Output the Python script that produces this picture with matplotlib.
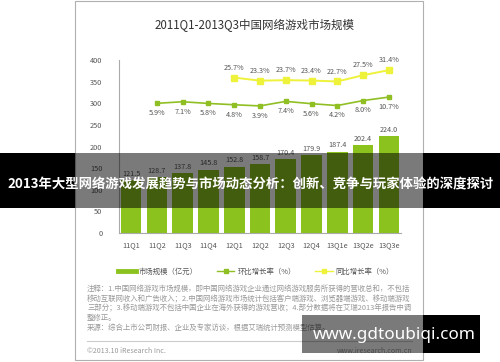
import matplotlib.pyplot as plt
from matplotlib.patches import Rectangle
from matplotlib.lines import Line2D

plt.rcParams['font.family'] = ['Noto Sans CJK SC', 'DejaVu Sans']

quarters = ['11Q1', '11Q2', '11Q3', '11Q4', '12Q1', '12Q2', '12Q3', '12Q4', '13Q1e', '13Q2e', '13Q3e']
market = [121.5, 128.7, 137.8, 145.8, 152.8, 158.7, 170.4, 179.9, 187.4, 202.4, 224.0]
qoq = [5.9, 7.1, 5.8, 4.8, 3.9, 7.4, 5.6, 4.2, 8.0, 10.7]          # 11Q2 .. 13Q3e
yoy = [25.7, 23.3, 23.7, 23.4, 22.7, 27.5, 31.4]                    # 12Q1 .. 13Q3e
yticks = [0, 50, 100, 150, 200, 250, 300, 350, 400]

title = '2011Q1-2013Q3中国网络游戏市场规模'
legend_labels = ['市场规模（亿元）', '环比增长率（%）', '同比增长率（%）']
notes = ['注释：1.中国网络游戏市场规模，即中国网络游戏企业通过网络游戏服务所获得的营收总和，不包括',
         '移动互联网收入和广告收入；2.中国网络游戏市场统计包括客户端游戏、浏览器端游戏、移动端游戏',
         '三部分；3.移动端游戏不包括中国企业在海外获得的游戏营收；4.部分数据将在艾瑞2013年报告中调',
         '整修正。',
         '来源：综合上市公司财报、企业及专家访谈，根据艾瑞统计预测模型估算。']
banner = '2013年大型网络游戏发展趋势与市场动态分析：创新、竞争与玩家体验的深度探讨'
watermark = 'www.gdtoubiqi.com'

W, H = 500, 362
fig = plt.figure(figsize=(5, 3.62), dpi=100)
fig.patch.set_facecolor('white')

def fx(px):
    return px / W

def fy(py):
    return 1 - py / H

green = '#8cc21e'
lgreen = '#8fbf22'
yellow = '#eef23a'

# panel border
fig.add_artist(Rectangle((fx(75), fy(360)), fx(348), 359 / H, transform=fig.transFigure,
                         fill=False, edgecolor='#b0b0b0', linewidth=0.8))

fig.text(fx(255), fy(25), title, ha='center', va='center', fontsize=8.3, color='#333333')

ax = fig.add_axes([fx(119), fy(233), fx(282), 173 / H])
x = list(range(len(quarters)))
bars = ax.bar(x, market, width=0.8, color=green, zorder=2)
for xi, v in zip(x, market):
    ax.text(xi, v + 6, f'{v:.1f}', ha='center', va='bottom', fontsize=5.2, color='#555555')
ax.set_xlim(-0.47, 10.47)
ax.set_ylim(0, 400)
ax.set_yticks(yticks)
ax.set_xticks(x)
ax.set_xticklabels(quarters)
ax.tick_params(axis='both', length=0, labelsize=5.3, colors='#555555')
ax.tick_params(axis='y', pad=12)
ax.tick_params(axis='x', pad=6)
for s in ['top', 'right']:
    ax.spines[s].set_visible(False)
ax.spines['left'].set_color('#aaaaaa')
ax.spines['bottom'].set_color('#aaaaaa')
ax.spines['left'].set_linewidth(0.8)
ax.spines['bottom'].set_linewidth(0.8)

ax2 = ax.twinx()
ax2.set_ylim(-93.8, 39.2)
ax2.axis('off')
lq, = ax2.plot(x[1:], qoq, color=lgreen, marker='s', markersize=3.5, linewidth=1.2, zorder=3)
ly, = ax2.plot(x[4:], yoy, color=yellow, marker='s', markersize=4, linewidth=1.4, zorder=3)
for xi, v in zip(x[1:], qoq):
    ax2.text(xi, v - 4.5, f'{v:.1f}%', ha='center', va='top', fontsize=5.2, color='#555555')
for xi, v in zip(x[4:], yoy):
    ax2.text(xi, v + 4.5, f'{v:.1f}%', ha='center', va='bottom', fontsize=5.2, color='#555555')

handles = [Line2D([], [], color=green, linewidth=3.5),
           Line2D([], [], color=lgreen, marker='s', markersize=2.5, linewidth=1),
           Line2D([], [], color=yellow, marker='s', markersize=2.5, linewidth=1)]
fig.legend(handles, legend_labels, loc='center', bbox_to_anchor=(fx(256), fy(272)), ncol=3,
           frameon=False, fontsize=5.3, handlelength=2.4, columnspacing=2.6, handletextpad=0.4,
           labelcolor='#555555')

for i, line in enumerate(notes):
    fig.text(fx(87), fy(289 + i * 9.8), line, ha='left', va='center', fontsize=5.35, color='#999999')
fig.add_artist(Line2D([fx(87), fx(412)], [fy(341), fy(341)], transform=fig.transFigure,
                      color='#cccccc', linewidth=0.8))
fig.text(fx(87), fy(351), '©2013.10 iResearch Inc.', ha='left', va='center', fontsize=5.1, color='#999999')
fig.text(fx(412), fy(351), 'www.iresearch.com.cn', ha='right', va='center', fontsize=5.1, color='#999999')

# overlay banner
def overlay(x0, x1, y0, y1):
    parts = [(x0, min(x1, 75), 1.0), (max(x0, 75), min(x1, 423), 0.52), (max(x0, 423), x1, 1.0)]
    for a, b, al in parts:
        if b > a:
            fig.add_artist(Rectangle((fx(a), fy(y1)), fx(b - a), (y1 - y0) / H,
                                     transform=fig.transFigure, facecolor='black',
                                     alpha=al, edgecolor='none', zorder=10))

overlay(0, 500, 153, 208)
fig.text(fx(251), fy(184), banner, ha='center', va='center', fontsize=9.6, color='white',
         fontweight='bold', zorder=11)
overlay(302, 480, 315, 353)
fig.text(fx(394), fy(335), watermark, ha='center', va='center', fontsize=12.3, color='white',
         fontweight='bold', family=['Noto Sans', 'DejaVu Sans'], zorder=11)

fig.savefig('out.png', dpi=100)
